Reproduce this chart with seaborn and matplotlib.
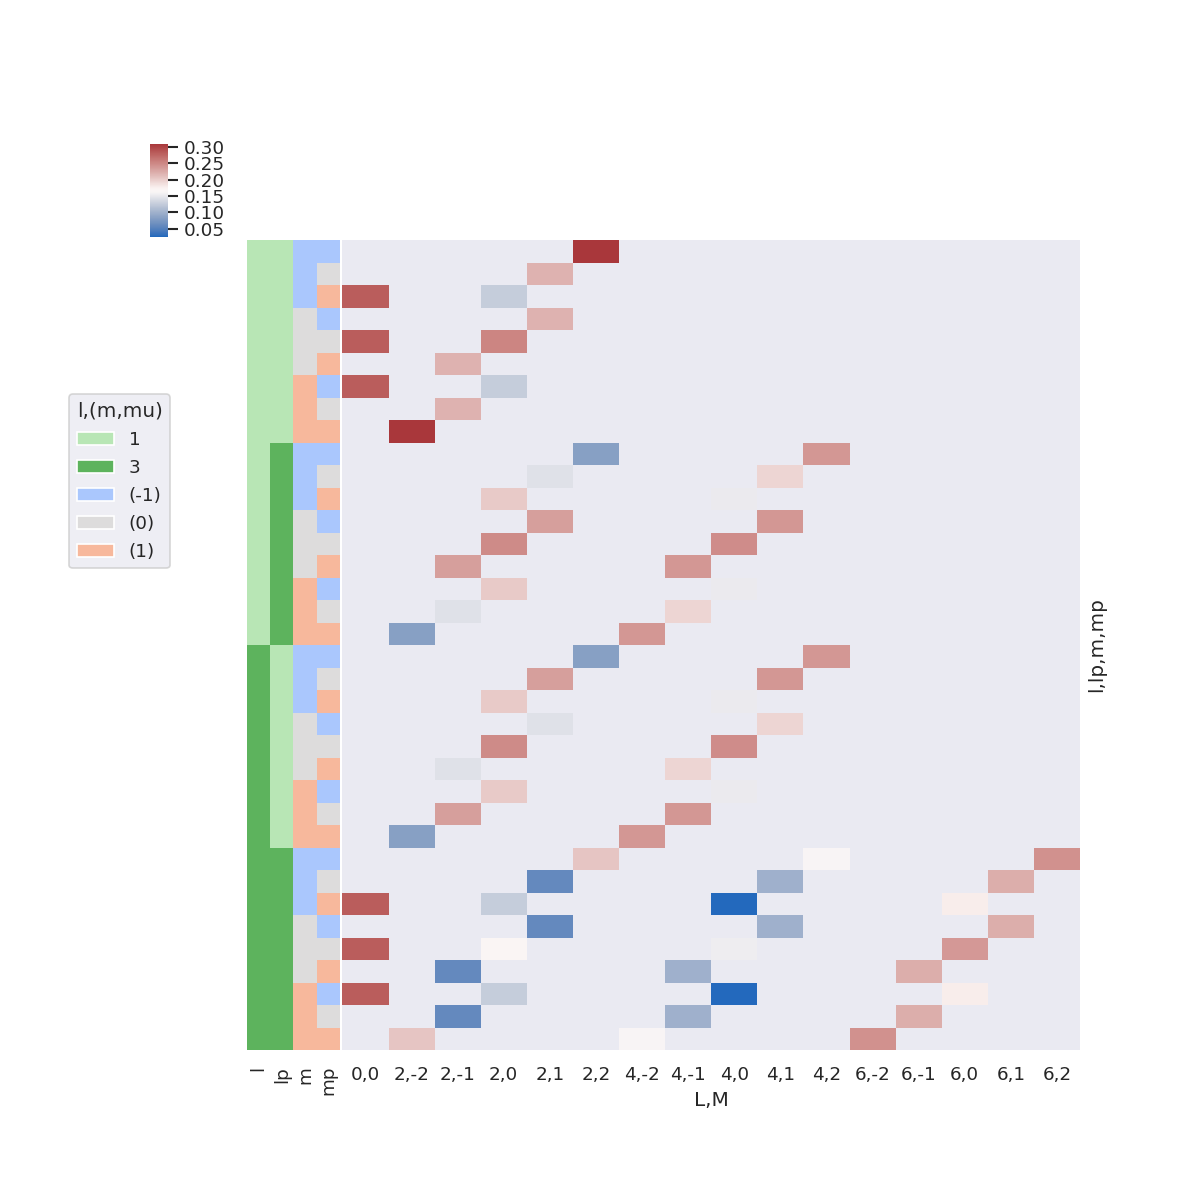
import numpy as np
import pandas as pd
import matplotlib
matplotlib.use('Agg')
import matplotlib.pyplot as plt
import seaborn as sns
from matplotlib.patches import Patch

# ------------------------------------------------------------
# data: |coupling| values per (l, lp, m, mp) row and (L, M) column
# ------------------------------------------------------------
_ = np.nan

col_labels = ['0,0', '2,-2', '2,-1', '2,0', '2,1', '2,2',
              '4,-2', '4,-1', '4,0', '4,1', '4,2',
              '6,-2', '6,-1', '6,0', '6,1', '6,2']

l_idx = [1] * 18 + [3] * 18
lp_idx = [1] * 9 + [3] * 9 + [1] * 9 + [3] * 9
m_idx = [-1, -1, -1, 0, 0, 0, 1, 1, 1] * 4
mp_idx = [-1, 0, 1] * 12

values = [
    # l=1, lp=1
    [_, _, _, _, _, .309, _, _, _, _, _, _, _, _, _, _],
    [_, _, _, _, .2185, _, _, _, _, _, _, _, _, _, _, _],
    [.2821, _, _, .1262, _, _, _, _, _, _, _, _, _, _, _, _],
    [_, _, _, _, .2185, _, _, _, _, _, _, _, _, _, _, _],
    [.2821, _, _, .2523, _, _, _, _, _, _, _, _, _, _, _, _],
    [_, _, .2185, _, _, _, _, _, _, _, _, _, _, _, _, _],
    [.2821, _, _, .1262, _, _, _, _, _, _, _, _, _, _, _, _],
    [_, _, .2185, _, _, _, _, _, _, _, _, _, _, _, _, _],
    [_, .309, _, _, _, _, _, _, _, _, _, _, _, _, _, _],
    # l=1, lp=3
    [_, _, _, _, _, .0826, _, _, _, _, .2384, _, _, _, _, _],
    [_, _, _, _, .1431, _, _, _, _, .1947, _, _, _, _, _, _],
    [_, _, _, .2023, _, _, _, _, .1508, _, _, _, _, _, _, _],
    [_, _, _, _, .2336, _, _, _, _, .2384, _, _, _, _, _, _],
    [_, _, _, .2478, _, _, _, _, .2462, _, _, _, _, _, _, _],
    [_, _, .2336, _, _, _, _, .2384, _, _, _, _, _, _, _, _],
    [_, _, _, .2023, _, _, _, _, .1508, _, _, _, _, _, _, _],
    [_, _, .1431, _, _, _, _, .1947, _, _, _, _, _, _, _, _],
    [_, .0826, _, _, _, _, .2384, _, _, _, _, _, _, _, _, _],
    # l=3, lp=1
    [_, _, _, _, _, .0826, _, _, _, _, .2384, _, _, _, _, _],
    [_, _, _, _, .2336, _, _, _, _, .2384, _, _, _, _, _, _],
    [_, _, _, .2023, _, _, _, _, .1508, _, _, _, _, _, _, _],
    [_, _, _, _, .1431, _, _, _, _, .1947, _, _, _, _, _, _],
    [_, _, _, .2478, _, _, _, _, .2462, _, _, _, _, _, _, _],
    [_, _, .1431, _, _, _, _, .1947, _, _, _, _, _, _, _, _],
    [_, _, _, .2023, _, _, _, _, .1508, _, _, _, _, _, _, _],
    [_, _, .2336, _, _, _, _, .2384, _, _, _, _, _, _, _, _],
    [_, .0826, _, _, _, _, .2384, _, _, _, _, _, _, _, _, _],
    # l=3, lp=3
    [_, _, _, _, _, .2060, _, _, _, _, .1622, _, _, _, _, .2429],
    [_, _, _, _, .0595, _, _, _, _, .0993, _, _, _, _, .2218, _],
    [.2821, _, _, .1262, _, _, _, _, .0256, _, _, _, _, .1778, _, _],
    [_, _, _, _, .0595, _, _, _, _, .0993, _, _, _, _, .2218, _],
    [.2821, _, _, .1682, _, _, _, _, .1539, _, _, _, _, .2371, _, _],
    [_, _, .0595, _, _, _, _, .0993, _, _, _, _, .2218, _, _, _],
    [.2821, _, _, .1262, _, _, _, _, .0256, _, _, _, _, .1778, _, _],
    [_, _, .0595, _, _, _, _, .0993, _, _, _, _, .2218, _, _, _],
    [_, .2060, _, _, _, _, .1622, _, _, _, _, .2429, _, _, _, _],
]

cbar_ticks = [0.05, 0.10, 0.15, 0.20, 0.25, 0.30]

l_colors = {1: '#b8e6b5', 3: '#5db35d'}
m_colors = {-1: '#aac7fd', 0: '#dddcdc', 1: '#f7b89c'}

# ------------------------------------------------------------
# build frames
# ------------------------------------------------------------
sns.set_theme(style='darkgrid')

idx = pd.MultiIndex.from_arrays([l_idx, lp_idx, m_idx, mp_idx],
                                names=['l', 'lp', 'm', 'mp'])
df = pd.DataFrame(values, index=idx, columns=col_labels)

row_colors = pd.DataFrame({
    'l':  [l_colors[v] for v in l_idx],
    'lp': [l_colors[v] for v in lp_idx],
    'm':  [m_colors[v] for v in m_idx],
    'mp': [m_colors[v] for v in mp_idx],
}, index=idx)

g = sns.clustermap(df, row_cluster=False, col_cluster=False, cmap='vlag',
                   row_colors=row_colors, yticklabels=False, xticklabels=True,
                   figsize=(10, 10),
                   cbar_kws={'ticks': cbar_ticks, 'format': '%.2f'},
                   cbar_pos=(150 / 1200, 963.3 / 1200, 17.7 / 1200, 92.7 / 1200))

W = 1200
g.ax_heatmap.set_position([342.4 / W, 150 / W, 737.6 / W, 810 / W])
g.ax_row_colors.set_position([247 / W, 150 / W, 92.7 / W, 810 / W])
g.ax_heatmap.grid(False)
g.ax_row_colors.grid(False)

g.ax_heatmap.set_xlabel('L,M')
g.ax_heatmap.set_ylabel('l,lp,m,mp')
plt.setp(g.ax_heatmap.get_xticklabels(), rotation=0)

# legend for the row colours
handles = [Patch(facecolor=l_colors[1]), Patch(facecolor=l_colors[3]),
           Patch(facecolor=m_colors[-1]), Patch(facecolor=m_colors[0]),
           Patch(facecolor=m_colors[1])]
labels = ['1', '3', '(-1)', '(0)', '(1)']
g.figure.legend(handles, labels, title='l,(m,mu)', loc='upper left',
                bbox_to_anchor=(69.3 / W, 1 - 394.3 / W), borderaxespad=0,
                labelspacing=0.55)

g.figure.savefig('out.png', dpi=120)
